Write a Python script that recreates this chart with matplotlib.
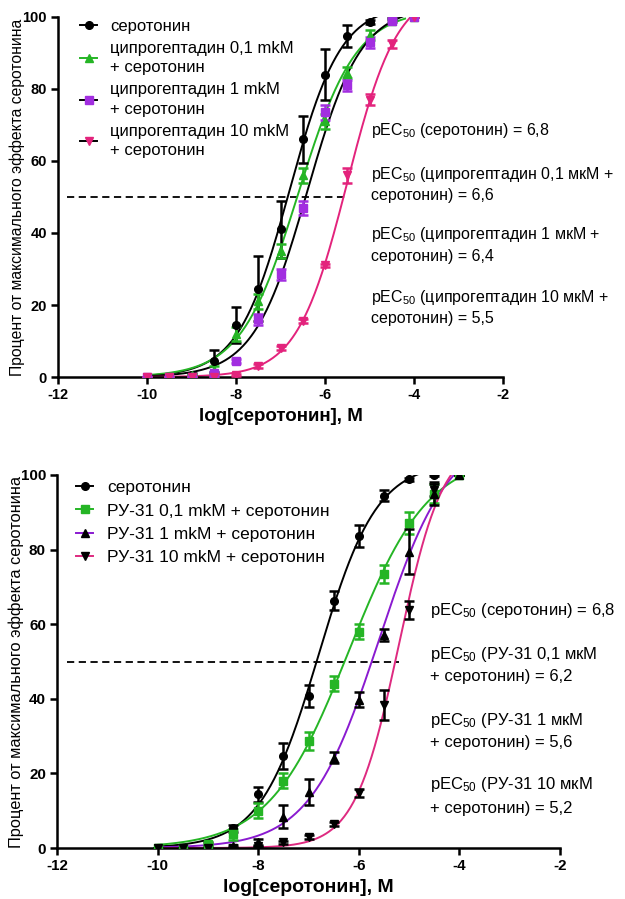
"""Concentration-response curves for serotonin with cyproheptadine and RU-31."""

import numpy as np
import matplotlib

matplotlib.use("Agg")

from matplotlib import pyplot as plt
from matplotlib.lines import Line2D

plt.rcParams["font.family"] = ["Liberation Sans", "DejaVu Sans"]
plt.rcParams["mathtext.fontset"] = "custom"
plt.rcParams["mathtext.rm"] = "Liberation Sans"
plt.rcParams["mathtext.it"] = "Liberation Sans:italic"
plt.rcParams["mathtext.bf"] = "Liberation Sans:bold"

# --- data -----------------------------------------------------------------
log_conc = [-10, -9.5, -9, -8.5, -8, -7.5, -7, -6.5, -6, -5.5, -5, -4.5, -4]

# top panel: cyproheptadine
top_labels = ["серотонин",
              "ципрогептадин 0,1 mkM\n+ серотонин",
              "ципрогептадин 1 mkM\n+ серотонин",
              "ципрогептадин 10 mkM\n+ серотонин"]
top_x = [log_conc[:12], log_conc, log_conc, log_conc]
top_y = [
    [0, 0, 0.5, 4.5, 14.5, 24.5, 41, 66, 84, 94.7, 98.6, 99.8],
    [0, 0, 0.5, 2, 12, 21, 35, 56, 71, 84.5, 95, 99, 100],
    [0, 0, 0, 1, 4.5, 16, 28.5, 47, 73.5, 81, 93, 99, 100],
    [0, 0, 0, 0, 0.5, 3, 8, 15.5, 31, 56, 77, 92.5, 100],
]
top_err = [
    [0, 0, 0.5, 3, 5, 9, 8, 6.5, 7, 3, 0.5, 0.3],
    [0, 0, 0, 1, 2, 2, 2, 2, 2, 1.5, 1.5, 0.5, 0],
    [0, 0, 0, 0.5, 0.5, 1.5, 1.5, 2, 2, 1.5, 1.5, 0.5, 0],
    [0, 0, 0, 0, 0.3, 0.5, 0.5, 0.5, 0.5, 2, 1.5, 1, 0],
]
top_pec50 = [6.8, 6.6, 6.4, 5.5]
top_curve_end = [-4.5, -4.2, -4, -4]
top_notes = ["pEC$_{50}$ (серотонин) = 6,8",
             "pEC$_{50}$ (ципрогептадин 0,1 мкМ +\nсеротонин) = 6,6",
             "pEC$_{50}$ (ципрогептадин 1 мкМ +\nсеротонин) = 6,4",
             "pEC$_{50}$ (ципрогептадин 10 мкМ +\nсеротонин) = 5,5"]

# bottom panel: RU-31
bot_labels = ["серотонин",
              "РУ-31 0,1 mkM + серотонин",
              "РУ-31 1 mkM + серотонин",
              "РУ-31 10 mkM + серотонин"]
bot_x = [log_conc[:12], log_conc, log_conc, log_conc]
bot_y = [
    [0, 0, 1, 5.3, 14.4, 24.7, 40.8, 66.3, 83.6, 94.5, 98.8, 99.9],
    [0, 0, 1, 3.7, 10, 18, 28.7, 44, 58, 73.5, 87.2, 95, 100],
    [0, 0, 0, 0.5, 1.5, 8.4, 15.1, 24.2, 39.7, 57.1, 79.4, 95, 100],
    [0, 0, 0, 0, 0.5, 1.5, 3, 6.4, 14.7, 38.3, 63.8, 96, 100],
]
bot_err = [
    [0, 0, 0.5, 1, 2, 3.5, 3, 2.5, 3, 1.5, 0.5, 0.3],
    [0, 0, 0.3, 1.5, 2, 2, 2.5, 2, 2, 2.5, 3, 2.5, 0],
    [0, 0, 0, 0.3, 1, 3, 3.5, 1.5, 2, 1.5, 6, 3, 0],
    [0, 0, 0, 0, 0.3, 0.3, 0.5, 0.5, 1, 4, 2.5, 1.5, 0],
]
bot_pec50 = [6.8, 6.2, 5.6, 5.2]
bot_curve_end = [-4.5, -4, -4, -4]
bot_notes = ["pEC$_{50}$ (серотонин) = 6,8",
             "pEC$_{50}$ (РУ-31 0,1 мкМ\n+ серотонин) = 6,2",
             "pEC$_{50}$ (РУ-31 1 мкМ\n+ серотонин) = 5,6",
             "pEC$_{50}$ (РУ-31 10 мкМ\n+ серотонин) = 5,2"]

xticks = [-12, -10, -8, -6, -4, -2]
yticks = [0, 20, 40, 60, 80, 100]

# --- styles -----------------------------------------------------------------
GREEN = "#25b525"
PURPLE = "#a22ee0"
PINK = "#e3237c"
PURPLE_LINE = "#8a1ad0"
PINK_LINE = "#de2a80"

top_style = [
    dict(marker="o", mfc="black", line="black", err="black", hline="black"),
    dict(marker="^", mfc=GREEN, line=GREEN, err=GREEN, hline=GREEN),
    dict(marker="s", mfc=PURPLE, line="black", err=PURPLE, hline="black"),
    dict(marker="v", mfc=PINK, line=PINK, err=PINK, hline="black"),
]
bot_style = [
    dict(marker="o", mfc="black", line="black", err="black", hline="black"),
    dict(marker="s", mfc=GREEN, line=GREEN, err=GREEN, hline=GREEN),
    dict(marker="^", mfc="black", line=PURPLE_LINE, err="black", hline=PURPLE_LINE),
    dict(marker="v", mfc="black", line=PINK_LINE, err="black", hline=PINK_LINE),
]


def fit_hill(x, y, log_ec50):
    """Least-squares hill slope and top for a fixed logEC50 (bottom = 0)."""
    x = np.asarray(x, float)
    y = np.asarray(y, float)
    best = (1.0, 100.0, np.inf)
    for top in np.arange(95, 125.5, 0.5):
        for n in np.arange(0.3, 2.5, 0.01):
            pred = top / (1 + 10 ** ((log_ec50 - x) * n))
            sse = np.sum((pred - y) ** 2)
            if sse < best[2]:
                best = (n, top, sse)
    return best[0], best[1]


def draw_panel(ax, xs, ys, errs, pec50s, ends, styles, labels, notes,
               legend_anchor, legend_spacing, notes_x, notes_y, notes_spacing,
               ylabel_x, scale=1.0):
    for x, y, e, p, end, st in zip(xs, ys, errs, pec50s, ends, styles):
        n, top = fit_hill(x, y, -p)
        xc = np.linspace(-10, end, 300)
        ax.plot(xc, top / (1 + 10 ** ((-p - xc) * n)), color=st["line"], lw=1.4,
                zorder=2)
        ax.errorbar(x, y, yerr=e, fmt="none", ecolor=st["err"], elinewidth=1.8,
                    capsize=3.5, capthick=1.8, zorder=3)
        ax.plot(x, y, ls="none", marker=st["marker"], mfc=st["mfc"],
                mec=st["mfc"], ms=5.5, zorder=4)

    ax.hlines(50, -11.8, -min(pec50s), colors="black", linestyles=(0, (4, 2.5)),
              lw=1.3, zorder=1)

    ax.set_xlim(-12, -2)
    ax.set_ylim(0, 100)
    ax.set_xticks(xticks)
    ax.set_yticks(yticks)
    ax.set_xticklabels([str(t) for t in xticks])
    for side in ("top", "right"):
        ax.spines[side].set_visible(False)
    for side in ("left", "bottom"):
        ax.spines[side].set_linewidth(1.8)
    ax.tick_params(direction="out", width=1.8, length=5, labelsize=10.5 * scale,
                   pad=3)
    for lab in ax.get_xticklabels() + ax.get_yticklabels():
        lab.set_fontweight("bold")
    ax.set_xlabel("log[серотонин], M", fontsize=13.5 * scale, fontweight="bold",
                  labelpad=4)
    ax.set_ylabel("Процент от максимального эффекта серотонина",
                  fontsize=11.3 * scale)
    ax.yaxis.set_label_coords(ylabel_x, 0.5)

    handles = [Line2D([], [], color=st["hline"], lw=1.4, marker=st["marker"],
                      mfc=st["mfc"], mec=st["mfc"], ms=5.5) for st in styles]
    leg = ax.legend(handles, labels, loc="upper left", bbox_to_anchor=legend_anchor,
                    frameon=False, fontsize=12 * scale, handlelength=1.0,
                    handletextpad=0.8, labelspacing=legend_spacing,
                    borderaxespad=0)
    for t in leg.get_texts():
        t.set_linespacing(1.38)

    for txt, yy in zip(notes, notes_y):
        ax.text(notes_x, yy, txt, transform=ax.transAxes, fontsize=11.5 * scale,
                va="top", ha="left", linespacing=notes_spacing, clip_on=False)


fig = plt.figure(figsize=(6.25, 8.99), dpi=100)
ax_top = fig.add_axes([58 / 625, 1 - 377 / 899, 445 / 625, 360 / 899])
ax_bot = fig.add_axes([57 / 625, 1 - 848 / 899, 503 / 625, 373 / 899])

draw_panel(ax_top, top_x, top_y, top_err, top_pec50, top_curve_end, top_style,
           top_labels, top_notes, (0.035, (377 - 12) / 360), 0.42,
           (371 - 58) / 445, [(377 - 121.5) / 360, (377 - 164.5) / 360,
                              (377 - 225.5) / 360, (377 - 287.5) / 360],
           1.41, -0.074)
draw_panel(ax_bot, bot_x, bot_y, bot_err, bot_pec50, bot_curve_end, bot_style,
           bot_labels, bot_notes, (0.024, (848 - 473) / 373), 0.48,
           (430 - 57) / 503, [(848 - 601.5) / 373, (848 - 644.5) / 373,
                              (848 - 710.5) / 373, (848 - 775.5) / 373],
           1.5, -0.066, scale=1.04)

fig.savefig("out.png", dpi=100)
